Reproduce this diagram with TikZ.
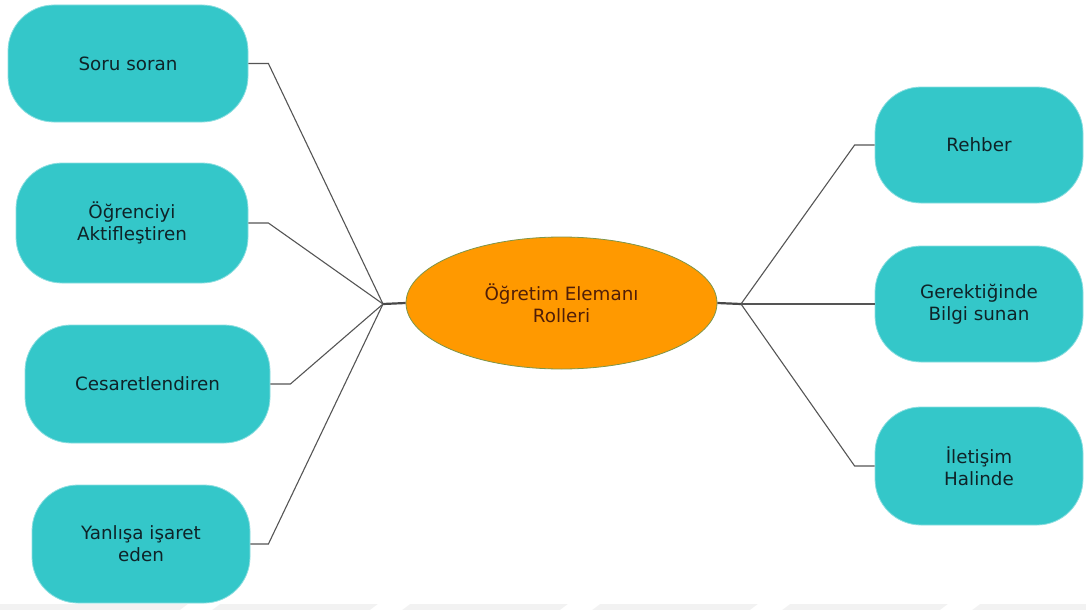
\documentclass[tikz,border=0pt]{standalone}
\usepackage{fontspec}
\setmainfont{DejaVu Sans}
\usetikzlibrary{shapes.geometric}
\definecolor{tealbox}{RGB}{52,199,201}
\definecolor{tealedge}{RGB}{140,222,224}
\definecolor{boxtext}{RGB}{15,35,40}
\definecolor{hubfill}{RGB}{255,153,0}
\definecolor{hubedge}{RGB}{125,150,75}
\definecolor{hubtext}{RGB}{80,30,8}
\definecolor{wire}{RGB}{85,85,85}
\definecolor{band}{RGB}{242,242,242}
\begin{document}
\begin{tikzpicture}[x=1pt,y=-1pt,
  rolebox/.style={rectangle, rounded corners=46pt, fill=tealbox, draw=tealedge,
    line width=0.8pt, text=boxtext, align=center, inner sep=0pt,
    font=\fontsize{18.3}{22}\selectfont},
  hub/.style={ellipse, fill=hubfill, draw=hubedge, line width=0.8pt,
    text=hubtext, align=center, inner sep=0pt,
    minimum width=311pt, minimum height=132pt,
    font=\fontsize{18.3}{22}\selectfont},
  wireline/.style={draw=wire, line width=1.1pt},
  hubstub/.style={draw=wire!85!black, line width=2.2pt}]
% canvas
\fill[white] (0,0) rectangle (1086,610);
\useasboundingbox (0,0) rectangle (1086,610);
% faint band along the bottom edge
\fill[band] (0,604) rectangle (1086,610);
\foreach \gx in {180,370,560,750,940}
  \fill[white] (\gx,610) -- (\gx+8,604) -- (\gx+40,604) -- (\gx+32,610) -- cycle;

% central ellipse
\node[hub] (hub) at (561.5,303) {Öğretim Elemanı\\Rolleri};

% left-hand roles
\node[rolebox, minimum width=240pt, minimum height=117pt] (soru) at (128,63.5) {Soru soran};
\node[rolebox, minimum width=232pt, minimum height=120pt] (aktif) at (132,223) {Öğrenciyi\\Aktifleştiren};
\node[rolebox, minimum width=245pt, minimum height=118pt] (cesaret) at (147.5,384) {Cesaretlendiren};
\node[rolebox, minimum width=218pt, minimum height=118pt] (yanlis) at (141,544) {Yanlışa işaret\\eden};

% right-hand roles
\node[rolebox, minimum width=208pt, minimum height=116pt] (rehber) at (979,145) {Rehber};
\node[rolebox, minimum width=208pt, minimum height=116pt] (bilgi) at (979,304) {Gerektiğinde\\Bilgi sunan};
\node[rolebox, minimum width=208pt, minimum height=118pt] (iletisim) at (979,466) {İletişim\\Halinde};

% branching points
\coordinate (jl) at (383,304);
\coordinate (jr) at (741,304);

% connectors
\draw[hubstub] (jl) -- (hub.west);
\draw[hubstub] (hub.east) -- (jr);
\draw[wireline] (soru.east) -- ++(20,0) -- (jl);
\draw[wireline] (aktif.east) -- ++(20,0) -- (jl);
\draw[wireline] (cesaret.east) -- ++(20,0) -- (jl);
\draw[wireline] (yanlis.east) -- ++(18,0) -- (jl);
\draw[wireline] (rehber.west) -- ++(-20,0) -- (jr);
\draw[wireline] (jr) -- (bilgi.west);
\draw[wireline] (iletisim.west) -- ++(-20,0) -- (jr);
\end{tikzpicture}
\end{document}
